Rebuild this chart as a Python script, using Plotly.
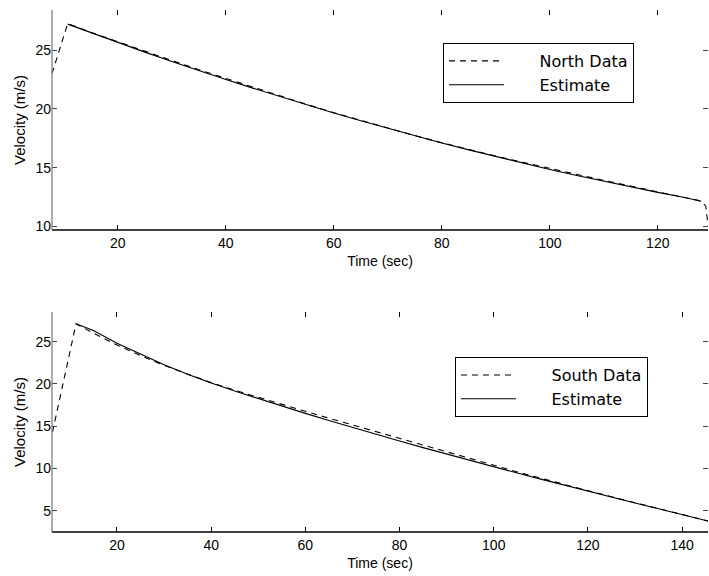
import plotly.graph_objects as go

# ---------------- data ----------------
north_data_t = [7.8, 10.7, 15, 20, 25, 30, 35, 40, 45, 50, 55, 60, 65, 70, 75, 80, 85, 90,
                95, 100, 105, 110, 115, 120, 125, 127.5, 128.3, 128.9, 129.3]
north_data_v = [23.0, 27.25, 26.5, 25.68, 24.88, 24.1, 23.33, 22.58, 21.83, 21.1, 20.37, 19.67,
                19.0, 18.35, 17.72, 17.12, 16.54, 15.98, 15.45, 14.92, 14.42, 13.92, 13.43,
                12.96, 12.5, 12.22, 12.05, 11.7, 10.1]
north_est_t = [10.7, 15, 20, 25, 30, 35, 40, 45, 50, 55, 60, 65, 70, 75, 80, 85, 90, 95,
               100, 105, 110, 115, 120, 125, 128]
north_est_v = [27.2, 26.47, 25.64, 24.82, 24.03, 23.25, 22.5, 21.76, 21.04, 20.33, 19.65, 18.99,
               18.34, 17.71, 17.1, 16.51, 15.94, 15.39, 14.85, 14.34, 13.84, 13.36, 12.9,
               12.46, 12.15]

south_data_t = [6.3, 11.3, 15, 20, 25, 30, 35, 40, 45, 50, 55, 60, 65, 70, 75, 80, 85, 90,
                95, 100, 105, 110, 115, 120, 125, 130, 135, 140, 145.5]
south_data_v = [14.3, 27.1, 26.0, 24.6, 23.35, 22.2, 21.15, 20.15, 19.25, 18.4, 17.58, 16.76,
                15.95, 15.15, 14.35, 13.55, 12.75, 11.95, 11.17, 10.38, 9.6, 8.85, 8.1, 7.38,
                6.67, 5.96, 5.27, 4.58, 3.8]
south_est_t = [11.3, 15, 20, 25, 30, 35, 40, 45, 50, 55, 60, 65, 70, 75, 80, 85, 90, 95,
               100, 105, 110, 115, 120, 125, 130, 135, 140, 145.5]
south_est_v = [27.1, 26.3, 24.8, 23.5, 22.25, 21.15, 20.1, 19.15, 18.25, 17.38, 16.52, 15.68,
               14.85, 14.05, 13.25, 12.47, 11.7, 10.95, 10.2, 9.47, 8.75, 8.03, 7.32, 6.62,
               5.93, 5.25, 4.57, 3.8]

x_ticks_top = [20, 40, 60, 80, 100, 120]
y_ticks_top = [10, 15, 20, 25]
x_ticks_bot = [20, 40, 60, 80, 100, 120, 140]
y_ticks_bot = [5, 10, 15, 20, 25]

x_range_top = [7.8, 129.3]
y_range_top = [9.7, 28.4]
x_range_bot = [6.2, 145.5]
y_range_bot = [2.5, 28.5]

FONT = "Liberation Sans, Arial, Helvetica, sans-serif"
LEG_FONT = "DejaVu Sans, Liberation Sans, sans-serif"
PAD = "\u00a0" * 6

fig = go.Figure()

dash_style = dict(color="black", width=1.1, dash="6px,5px")
solid_style = dict(color="black", width=1.1)

fig.add_trace(go.Scatter(x=north_data_t, y=north_data_v, mode="lines", line=dash_style,
                         name=PAD + "North Data", xaxis="x", yaxis="y", legend="legend"))
fig.add_trace(go.Scatter(x=north_est_t, y=north_est_v, mode="lines", line=solid_style,
                         name=PAD + "Estimate", xaxis="x", yaxis="y", legend="legend"))
fig.add_trace(go.Scatter(x=south_data_t, y=south_data_v, mode="lines", line=dash_style,
                         name=PAD + "South Data", xaxis="x2", yaxis="y2", legend="legend2"))
fig.add_trace(go.Scatter(x=south_est_t, y=south_est_v, mode="lines", line=solid_style,
                         name=PAD + "Estimate", xaxis="x2", yaxis="y2", legend="legend2"))

tickfont = dict(family=FONT, size=14, color="black")
# ticks on all four sides (mirror), axis lines only left/bottom (drawn as domain shapes)
common_x = dict(showgrid=False, zeroline=False, ticks="inside", ticklen=5, tickcolor="black",
                tickwidth=1, showline=False, mirror="ticks", tickfont=tickfont,
                ticklabelstandoff=3)
common_y = dict(showgrid=False, zeroline=False, ticks="inside", ticklen=5, tickcolor="#444444",
                tickwidth=1, showline=False, mirror="ticks", tickfont=tickfont)

top_dom = [0.5785, 1.0]
bot_dom = [0.0, 0.4215]

shapes = []
for xr, yr in [("x domain", "y domain"), ("x2 domain", "y2 domain")]:
    shapes.append(dict(type="line", xref=xr, yref=yr, x0=0, x1=1, y0=0, y1=0,
                       line=dict(color="black", width=1.3), layer="above"))
    shapes.append(dict(type="line", xref=xr, yref=yr, x0=0, x1=0, y0=0, y1=1,
                       line=dict(color="#808080", width=1.3), layer="above"))

fig.update_layout(
    width=709, height=576,
    margin=dict(l=52, r=1, t=10, b=44),
    paper_bgcolor="white", plot_bgcolor="white",
    font=dict(family=FONT, size=14, color="black"),
    xaxis=dict(domain=[0, 1], anchor="y", range=x_range_top, tickvals=x_ticks_top,
               title=dict(text="Time (sec)", standoff=6, font=dict(size=14)), **common_x),
    yaxis=dict(domain=top_dom, anchor="x", range=y_range_top, tickvals=y_ticks_top,
               title=dict(text="Velocity (m/s)", standoff=6, font=dict(size=15)), **common_y),
    xaxis2=dict(domain=[0, 1], anchor="y2", range=x_range_bot, tickvals=x_ticks_bot,
                title=dict(text="Time (sec)", standoff=6, font=dict(size=14)), **common_x),
    yaxis2=dict(domain=bot_dom, anchor="x2", range=y_range_bot, tickvals=y_ticks_bot,
                title=dict(text="Velocity (m/s)", standoff=6, font=dict(size=15)), **common_y),
    shapes=shapes,
    legend=dict(x=0.596, y=0.9368, xanchor="left", yanchor="top", bgcolor="white",
                bordercolor="black", borderwidth=1, itemwidth=55,
                font=dict(family=LEG_FONT, size=16), tracegroupgap=0),
    legend2=dict(x=0.6143, y=0.3352, xanchor="left", yanchor="top", bgcolor="white",
                 bordercolor="black", borderwidth=1, itemwidth=55,
                 font=dict(family=LEG_FONT, size=16), tracegroupgap=0),
    showlegend=True,
)

fig.write_html("out.html")
